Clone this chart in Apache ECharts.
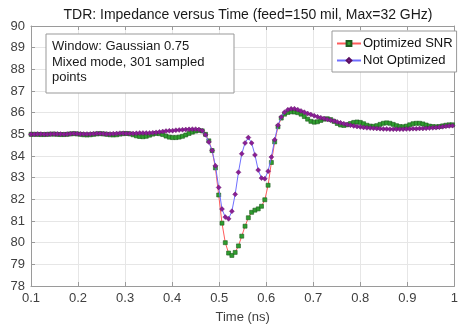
<!DOCTYPE html>
<html><head><meta charset="utf-8">
<script src="https://cdn.jsdelivr.net/npm/echarts@6/dist/echarts.min.js"></script>
<style>html,body{margin:0;padding:0;background:#fff}#c{width:461px;height:329px}</style>
</head><body><div id="c"></div>
<script>
const titleText = 'TDR: Impedance versus Time (feed=150 mil, Max=32 GHz)';
const noteLines = ['Window: Gaussian 0.75', 'Mixed mode, 301 sampled', 'points'];
const seriesNames = ['Optimized SNR', 'Not Optimized'];
const xTicks = [0.1,0.2,0.3,0.4,0.5,0.6,0.7,0.8,0.9,1];
const yTicks = [78,79,80,81,82,83,84,85,86,87,88,89,90];

const times = [
0.100,0.107,0.114,0.121,0.128,0.135,0.142,0.149,0.156,0.163,
0.170,0.177,0.184,0.191,0.198,0.205,0.212,0.219,0.226,0.233,
0.240,0.247,0.254,0.261,0.268,0.275,0.282,0.289,0.296,0.303,
0.310,0.317,0.324,0.331,0.338,0.345,0.352,0.359,0.366,0.373,
0.380,0.387,0.394,0.401,0.408,0.415,0.422,0.429,0.436,0.443,
0.450,0.457,0.464,0.471,0.478,0.485,0.492,0.499,0.506,0.513,
0.520,0.527,0.534,0.541,0.548,0.555,0.562,0.569,0.576,0.583,
0.590,0.597,0.604,0.611,0.618,0.625,0.632,0.639,0.646,0.653,
0.660,0.667,0.674,0.681,0.688,0.695,0.702,0.709,0.716,0.723,
0.730,0.737,0.744,0.751,0.758,0.765,0.772,0.779,0.786,0.793,
0.800,0.807,0.814,0.821,0.828,0.835,0.842,0.849,0.856,0.863,
0.870,0.877,0.884,0.891,0.898,0.905,0.912,0.919,0.926,0.933,
0.940,0.947,0.954,0.961,0.968,0.975,0.982,0.989,0.996];

const optimizedSNR = [
85.00,85.00,85.00,84.99,84.99,85.00,85.01,85.01,85.00,84.99,
84.99,85.00,85.02,85.03,85.02,85.00,84.98,84.97,84.98,85.00,
85.02,85.03,85.02,85.00,84.98,84.97,84.98,85.01,85.03,85.04,
85.02,84.98,84.93,84.90,84.89,84.91,84.96,85.01,85.04,85.03,
84.99,84.92,84.87,84.85,84.85,84.87,84.91,84.97,85.04,85.10,
85.15,85.18,85.16,85.00,84.70,84.25,83.45,82.20,80.90,80.00,
79.52,79.41,79.55,79.85,80.30,80.76,81.15,81.40,81.50,81.56,
81.68,81.98,82.65,83.70,84.65,85.35,85.75,85.93,86.01,86.04,
86.03,86.00,85.93,85.82,85.70,85.60,85.56,85.58,85.64,85.70,
85.72,85.68,85.60,85.50,85.43,85.41,85.44,85.50,85.55,85.57,
85.55,85.49,85.42,85.38,85.37,85.40,85.46,85.51,85.53,85.51,
85.46,85.40,85.36,85.35,85.38,85.44,85.49,85.51,85.51,85.48,
85.43,85.38,85.36,85.35,85.36,85.39,85.42,85.44,85.44];

const notOptimized = [
85.00,85.00,85.01,85.01,85.00,85.00,85.01,85.02,85.02,85.01,
85.00,85.01,85.03,85.04,85.03,85.02,85.01,85.01,85.02,85.03,
85.04,85.04,85.03,85.02,85.02,85.03,85.04,85.05,85.05,85.04,
85.04,85.04,85.05,85.06,85.06,85.06,85.06,85.07,85.09,85.11,
85.13,85.15,85.16,85.17,85.19,85.20,85.21,85.22,85.23,85.24,
85.24,85.22,85.16,84.98,84.65,84.25,83.55,82.55,81.55,81.18,
81.10,81.45,82.23,83.25,84.10,84.60,84.85,84.60,84.05,83.35,
82.98,82.95,83.30,83.95,84.75,85.42,85.80,86.02,86.14,86.18,
86.18,86.14,86.08,86.02,85.96,85.91,85.86,85.81,85.77,85.73,
85.69,85.65,85.61,85.57,85.53,85.49,85.45,85.42,85.39,85.36,
85.34,85.32,85.30,85.29,85.28,85.27,85.26,85.25,85.25,85.24,
85.24,85.24,85.24,85.24,85.25,85.25,85.26,85.26,85.27,85.27,
85.28,85.29,85.30,85.31,85.33,85.35,85.37,85.39,85.40];

const FONT = '"Liberation Sans", Arial, sans-serif';
const axisGray = '#9a9a9a';
const chart = echarts.init(document.getElementById('c'), null, {renderer: 'canvas'});

function pairs(vals) { return times.map((t, i) => [t, vals[i]]); }

const xMin = xTicks[0], xMax = xTicks[xTicks.length - 1];
const yMin = yTicks[0], yMax = yTicks[yTicks.length - 1];

const xBase = {
  type: 'value', min: xMin, max: xMax, interval: 0.1,
  axisLine: {show: true, onZero: false, lineStyle: {color: axisGray, width: 1}},
  axisTick: {show: true, inside: true, length: 4, lineStyle: {color: axisGray}},
  splitLine: {show: false}
};
const yBase = {
  type: 'value', min: yMin, max: yMax, interval: 1,
  axisLine: {show: true, onZero: false, lineStyle: {color: axisGray, width: 1}},
  axisTick: {show: true, inside: true, length: 4, lineStyle: {color: axisGray}},
  splitLine: {show: false}
};

chart.setOption({
  animation: false,
  backgroundColor: '#fff',
  title: {
    text: titleText, left: 243, top: 3, textAlign: 'center',
    textStyle: {fontFamily: FONT, fontSize: 14, fontWeight: 'normal', color: '#1a1a1a'}
  },
  grid: {left: 31, right: 2, top: 26, bottom: 38, containLabel: false},
  legend: {
    orient: 'vertical', left: 332, top: 31, z: 50,
    padding: [6, 4, 5, 4], itemGap: 4, itemWidth: 24, itemHeight: 6,
    backgroundColor: '#fff', borderColor: '#999', borderWidth: 1, borderRadius: 0,
    textStyle: {fontFamily: FONT, fontSize: 13, color: '#111', padding: [0,0,0,-3]},
    data: seriesNames
  },
  xAxis: [
    Object.assign({}, xBase, {
      position: 'bottom',
      name: 'Time (ns)', nameLocation: 'middle', nameGap: 25,
      nameTextStyle: {fontFamily: FONT, fontSize: 13, color: '#404040'},
      axisLabel: {fontFamily: FONT, fontSize: 13, color: '#404040', margin: 6,
        formatter: v => String(Math.round(v * 10) / 10)},
      splitLine: {show: true, lineStyle: {color: '#e6e6e6', width: 1}}
    }),
    Object.assign({}, xBase, {position: 'top', axisLabel: {show: false}})
  ],
  yAxis: [
    Object.assign({}, yBase, {
      position: 'left',
      axisLabel: {fontFamily: FONT, fontSize: 13, color: '#404040', margin: 6},
      splitLine: {show: true, lineStyle: {color: '#e6e6e6', width: 1}}
    }),
    Object.assign({}, yBase, {position: 'right', axisLabel: {show: false}})
  ],
  graphic: [
    {type: 'rect', z: 100, zlevel: 0, shape: {x: 46, y: 34, width: 188, height: 59},
     style: {fill: '#fff', stroke: '#999', lineWidth: 1}},
    {type: 'text', z: 101, zlevel: 0, x: 52, y: 39,
     style: {text: noteLines.join('\n'), font: '13px ' + FONT, fill: '#1a1a1a', lineHeight: 15.5}}
  ],
  series: [
    {
      name: seriesNames[0], type: 'line', data: pairs(optimizedSNR),
      symbol: 'rect', symbolSize: 4, showAllSymbol: true,
      lineStyle: {color: '#ff5c5c', width: 1},
      itemStyle: {color: '#2f9e2f', borderColor: '#1f5a1f', borderWidth: 0.6},
      z: 2
    },
    {
      name: seriesNames[1], type: 'line', data: pairs(notOptimized),
      symbol: 'diamond', symbolSize: 5, showAllSymbol: true,
      lineStyle: {color: '#6e6eff', width: 1},
      itemStyle: {color: '#8a1f95', borderColor: '#5a0f60', borderWidth: 0.4},
      z: 3
    }
  ]
});
</script></body></html>
